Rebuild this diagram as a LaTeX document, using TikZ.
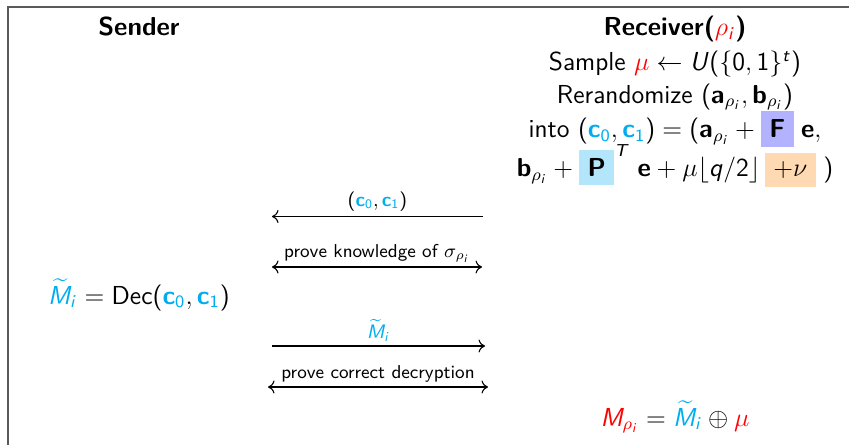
\documentclass[tikz,border=0pt]{standalone}
\usepackage{amsmath,xcolor}
\usepackage{tikz}
\usetikzlibrary{arrows, arrows.meta}
\renewcommand{\familydefault}{\sfdefault}
\SetSymbolFont{operators}{normal}{OT1}{cmss}{m}{n}
\SetSymbolFont{operators}{bold}{OT1}{cmss}{bx}{n}
\DeclareSymbolFont{sfletters}{OT1}{cmss}{m}{sl}
\DeclareMathSymbol{M}{\mathalpha}{sfletters}{`M}
\DeclareMathSymbol{U}{\mathalpha}{sfletters}{`U}
\DeclareMathSymbol{T}{\mathalpha}{sfletters}{`T}
\DeclareMathSymbol{i}{\mathalpha}{sfletters}{`i}
\DeclareMathSymbol{q}{\mathalpha}{sfletters}{`q}
\DeclareMathSymbol{t}{\mathalpha}{sfletters}{`t}
\DeclareMathAlphabet{\mathbf}{OT1}{cmss}{bx}{n}
\definecolor{msgcyan}{RGB}{0,174,239}
\definecolor{framegray}{RGB}{90,90,90}
\newcommand{\hlbox}[2]{{\setlength{\fboxsep}{0.333em}\colorbox{#1}{$#2$}}}
\newcommand{\cc}[1]{\textcolor{msgcyan}{\mathbf{c}_{#1}}}
\tikzstyle{head} = [font=\fontsize{12}{14.4}\selectfont\bfseries, anchor=base, inner sep=0pt]
\tikzstyle{txt} = [font=\fontsize{12}{14.4}\selectfont, anchor=base, inner sep=0pt]
\tikzstyle{lbl} = [font=\fontsize{8.6}{10}\selectfont, above, midway, inner sep=2pt]
\tikzstyle{arrow} = [-{To[length=3pt,width=6pt]}, line width=0.5pt]
\tikzstyle{twoway} = [{To[length=3pt,width=6pt]}-{To[length=3pt,width=6pt]}, line width=0.5pt]

\begin{document}
\begin{tikzpicture}[x=0.4615pt, y=-0.4615pt]
    \useasboundingbox (0,0) rectangle (849,445);
    \draw [framegray, line width=0.7pt] (8,445) -- (8,7) -- (849,7);
    \node (sender) [head] at (139,36) {Sender};
    \node (receiver) [head] at (675,36) {Receiver($\textcolor{red}{\rho_i}$)};
    \node (sample) [txt] at (675,71) {Sample $\textcolor{red}{\mu} \leftarrow U(\{0,1\}^t)$};
    \node (rerand) [txt] at (675,103) {Rerandomize $(\mathbf{a}_{\rho_i},\mathbf{b}_{\rho_i})$};
    \node (into) [txt] at (675,138) {into $(\cc{0},\cc{1}) = (\mathbf{a}_{\rho_i} + \hlbox{blue!30}{\mathbf{F}}\;\mathbf{e},$};
    \node (bline) [txt] at (675,176.5) {$\mathbf{b}_{\rho_i} + {\hlbox{cyan!30}{\mathbf{P}}}^T\;\mathbf{e} + \mu\lfloor q/2\rfloor\,\hlbox{orange!30}{+\nu}\;)$};
    \node (dec) [txt] at (139,304) {$\textcolor{msgcyan}{\widetilde{M}_i} = \mathrm{Dec}(\cc{0},\cc{1})$};
    \node (result) [txt] at (675,426) {$\textcolor{red}{M_{\rho_i}} = \textcolor{msgcyan}{\widetilde{M}_i} \oplus \textcolor{red}{\mu}$};
    \coordinate (ct_r) at (483,216.5);
    \coordinate (ct_l) at (272,216.5);
    \coordinate (pk_l) at (272,267);
    \coordinate (pk_r) at (482,267);
    \coordinate (msg_l) at (272,346);
    \coordinate (msg_r) at (485,346);
    \coordinate (pd_l) at (268,387);
    \coordinate (pd_r) at (488,387);
    \draw [arrow] (ct_r) -- node[lbl] {$(\cc{0},\cc{1})$} (ct_l);
    \draw [twoway] (pk_l) -- node[lbl] {prove knowledge of $\sigma_{\rho_i}$} (pk_r);
    \draw [arrow] (msg_l) -- node[lbl] {$\textcolor{msgcyan}{\widetilde{M}_i}$} (msg_r);
    \draw [twoway] (pd_l) -- node[lbl] {prove correct decryption} (pd_r);
\end{tikzpicture}
\end{document}
